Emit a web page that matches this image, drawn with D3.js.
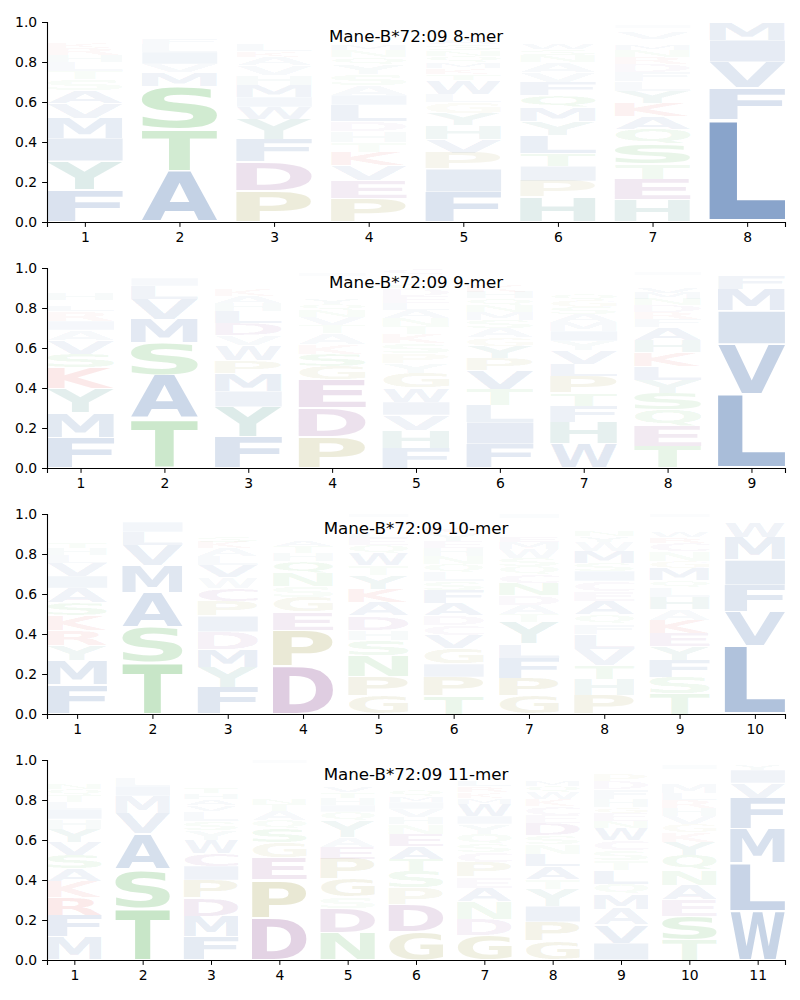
<!DOCTYPE html>
<html><head><meta charset="utf-8">
<script src="https://cdn.jsdelivr.net/npm/d3@7/dist/d3.min.js"></script>
<style>body{margin:0;background:#fff}svg{display:block}</style>
</head><body>
<svg id="chart" width="800" height="1000"></svg>
<script>
// ---------- data (bottom-to-top stacks, per position) ----------
const allele = "Mane-B*72:09";
const lengths = [8, 9, 10, 11];
const yTicks = [0, 0.2, 0.4, 0.6, 0.8, 1.0];

const logo8 = [
  [["F",.16],["Y",.145],["I",.115],["M",.10],["V",.075],["A",.065],["S",.055],["T",.04],["L",.045],["H",.035],["R",.035],["K",.03],["W",.025],["Q",.02],["E",.02],["N",.015],["G",.01],["D",.01]],
  [["A",.255],["T",.21],["S",.215],["M",.07],["V",.04],["I",.06],["L",.04],["F",.03],["Y",.02],["W",.015],["C",.015],["Q",.015],["G",.015]],
  [["P",.155],["D",.145],["F",.115],["Y",.10],["W",.06],["I",.05],["M",.06],["H",.05],["V",.05],["A",.04],["K",.03],["L",.03],["R",.025],["S",.02],["Q",.02],["N",.015],["G",.015],["T",.015],["E",.005]],
  [["P",.12],["E",.09],["V",.075],["K",.065],["T",.05],["H",.055],["D",.05],["L",.08],["I",.05],["A",.05],["S",.055],["Y",.05],["Q",.035],["N",.035],["M",.03],["R",.025],["G",.025],["F",.02],["W",.015],["C",.025]],
  [["F",.15],["I",.115],["P",.08],["V",.07],["H",.07],["Y",.06],["G",.055],["L",.04],["W",.07],["T",.03],["K",.03],["M",.03],["Q",.03],["N",.03],["S",.03],["A",.03],["E",.025],["R",.025],["D",.015],["C",.015]],
  [["H",.125],["P",.08],["I",.075],["T",.065],["L",.09],["Y",.07],["M",.07],["Q",.06],["F",.065],["V",.05],["A",.05],["N",.035],["S",.03],["W",.03],["R",.025],["K",.025],["G",.02],["E",.015],["D",.015],["C",.005]],
  [["H",.11],["E",.105],["T",.075],["S",.10],["Q",.075],["A",.065],["K",.065],["Y",.06],["L",.05],["F",.045],["D",.04],["R",.035],["N",.035],["M",.03],["W",.025],["V",.03],["G",.025],["I",.015],["P",.015]],
  [["L",.51],["F",.16],["V",.13],["I",.11],["M",.09]]
];
const logo9 = [
  [["F",.15],["M",.125],["Y",.125],["K",.10],["S",.07],["V",.07],["A",.05],["I",.045],["R",.05],["L",.03],["T",.025],["H",.03],["W",.025],["Q",.02],["N",.02],["E",.02],["D",.015],["G",.015],["P",.015]],
  [["T",.245],["A",.22],["S",.16],["M",.12],["V",.10],["L",.065],["I",.04],["F",.02],["Q",.015],["Y",.015]],
  [["F",.155],["Y",.15],["I",.08],["M",.09],["P",.065],["W",.075],["V",.05],["D",.06],["L",.06],["H",.04],["A",.035],["K",.03],["G",.025],["S",.02],["T",.02],["E",.015],["Q",.015],["R",.015]],
  [["P",.155],["D",.145],["E",.14],["G",.07],["S",.06],["K",.05],["A",.055],["T",.04],["V",.04],["N",.035],["Q",.03],["Y",.03],["H",.025],["L",.025],["R",.02],["W",.02],["M",.02],["I",.015],["F",.015],["C",.01]],
  [["F",.10],["H",.09],["V",.075],["I",.065],["W",.07],["G",.075],["Y",.05],["P",.05],["S",.05],["K",.045],["T",.04],["N",.04],["A",.04],["L",.035],["E",.035],["D",.03],["Q",.03],["R",.025],["M",.025],["C",.03]],
  [["F",.12],["I",.11],["L",.085],["T",.08],["V",.095],["P",.06],["Y",.06],["G",.045],["A",.045],["S",.04],["M",.04],["N",.035],["Q",.035],["H",.03],["K",.03],["E",.025],["R",.02],["D",.02],["W",.015],["C",.01]],
  [["W",.12],["H",.11],["F",.08],["T",.065],["P",.085],["L",.06],["V",.07],["Y",.045],["I",.05],["M",.045],["A",.04],["S",.035],["G",.035],["Q",.03],["N",.025],["E",.025],["K",.025],["R",.02],["D",.02],["C",.015]],
  [["T",.11],["E",.10],["Q",.08],["S",.085],["Y",.065],["L",.07],["K",.07],["H",.06],["A",.065],["F",.04],["R",.035],["D",.035],["N",.03],["M",.03],["V",.03],["G",.025],["P",.02],["W",.015],["I",.015],["C",.02]],
  [["L",.37],["V",.25],["I",.165],["M",.11],["F",.065],["W",.02],["Y",.01],["A",.01]]
];
const logo10 = [
  [["F",.145],["M",.125],["Y",.075],["R",.075],["K",.075],["S",.06],["A",.075],["I",.06],["V",.065],["L",.04],["H",.035],["T",.03],["W",.025],["N",.025],["Q",.02],["E",.02],["G",.015],["D",.015],["P",.01],["C",.01]],
  [["T",.26],["S",.175],["A",.17],["M",.135],["V",.105],["L",.065],["I",.05],["F",.015],["Y",.01],["Q",.01],["C",.005]],
  [["F",.135],["Y",.10],["M",.09],["D",.085],["I",.08],["P",.075],["C",.065],["W",.055],["V",.06],["L",.045],["A",.04],["K",.03],["S",.03],["T",.025],["H",.02],["G",.02],["E",.015],["Q",.015],["N",.01],["R",.005]],
  [["D",.24],["P",.18],["E",.09],["G",.075],["S",.055],["N",.065],["Q",.06],["H",.04],["T",.035],["A",.03],["K",.025],["Y",.02],["V",.02],["L",.02],["R",.015],["M",.01],["W",.01],["F",.01]],
  [["G",.09],["P",.10],["N",.10],["S",.08],["H",.05],["D",.07],["A",.07],["K",.065],["Y",.07],["T",.05],["W",.06],["Q",.04],["E",.035],["L",.03],["V",.025],["R",.02],["M",.015],["F",.015],["I",.015]],
  [["T",.09],["P",.095],["I",.065],["G",.08],["V",.065],["C",.05],["D",.05],["A",.06],["F",.065],["S",.045],["L",.045],["Q",.04],["N",.04],["H",.04],["E",.035],["Y",.035],["K",.03],["R",.025],["M",.025],["W",.02]],
  [["G",.09],["P",.09],["F",.10],["L",.07],["Y",.11],["T",.04],["A",.045],["D",.05],["N",.06],["C",.045],["Q",.04],["S",.04],["W",.045],["M",.035],["E",.03],["H",.025],["K",.025],["R",.02],["V",.02],["I",.02]],
  [["P",.095],["H",.08],["T",.07],["V",.08],["L",.075],["F",.05],["Q",.045],["A",.07],["E",.05],["C",.05],["I",.05],["S",.04],["M",.06],["W",.045],["Y",.03],["N",.03],["K",.025],["R",.02],["D",.02],["G",.015]],
  [["T",.10],["S",.085],["F",.085],["Y",.07],["E",.065],["K",.065],["A",.055],["H",.06],["L",.05],["Q",.035],["M",.06],["G",.035],["N",.05],["C",.04],["R",.03],["W",.03],["V",.025],["D",.025],["P",.02],["I",.015]],
  [["L",.34],["V",.17],["F",.135],["I",.125],["M",.115],["W",.075],["Y",.02],["A",.01],["T",.01]]
];
const logo11 = [
  [["M",.115],["F",.11],["R",.09],["K",.08],["A",.06],["S",.07],["V",.065],["Y",.065],["H",.05],["I",.05],["L",.035],["T",.035],["Q",.03],["N",.03],["E",.025],["W",.02],["D",.02],["G",.02],["P",.015],["C",.015]],
  [["T",.26],["S",.195],["A",.175],["V",.105],["M",.085],["I",.05],["L",.04],["F",.02],["Y",.015],["Q",.015],["G",.015],["C",.01],["N",.01],["K",.005]],
  [["F",.115],["M",.105],["D",.09],["P",.09],["I",.07],["C",.065],["W",.065],["Y",.05],["S",.045],["L",.05],["V",.03],["A",.03],["H",.03],["T",.03],["E",.025],["K",.025],["G",.025],["Q",.025],["R",.02],["N",.015]],
  [["D",.21],["P",.19],["E",.11],["G",.075],["S",.07],["Q",.045],["A",.045],["T",.035],["N",.03],["K",.025],["V",.025],["H",.02],["L",.02],["R",.02],["Y",.02],["M",.015],["W",.015],["F",.015],["I",.015]],
  [["N",.135],["D",.125],["S",.055],["G",.09],["P",.10],["E",.06],["A",.05],["Y",.08],["Q",.045],["I",.035],["H",.035],["T",.03],["V",.03],["K",.025],["L",.025],["R",.02],["M",.02],["W",.015],["F",.015],["C",.01]],
  [["G",.14],["D",.135],["P",.085],["S",.085],["T",.06],["A",.065],["E",.06],["N",.05],["H",.035],["V",.04],["I",.035],["M",.03],["Q",.03],["K",.025],["R",.025],["L",.025],["F",.02],["W",.02],["Y",.02],["C",.015]],
  [["G",.125],["D",.08],["N",.085],["A",.07],["E",.055],["P",.075],["C",.05],["S",.04],["Q",.05],["Y",.05],["I",.04],["W",.06],["M",.03],["K",.03],["R",.03],["L",.03],["F",.025],["H",.025],["T",.025],["V",.025]],
  [["G",.095],["P",.095],["I",.08],["Y",.085],["T",.05],["A",.065],["L",.06],["N",.05],["S",.045],["D",.06],["E",.04],["C",.045],["K",.035],["W",.035],["Q",.03],["M",.03],["R",.025],["F",.025],["H",.025],["V",.025]],
  [["I",.085],["V",.09],["A",.08],["M",.075],["Q",.05],["L",.07],["T",.05],["S",.05],["C",.05],["W",.06],["N",.035],["E",.04],["G",.03],["H",.04],["F",.05],["D",.04],["P",.035],["K",.025],["R",.025],["Y",.02]],
  [["T",.10],["S",.12],["E",.08],["A",.075],["N",.075],["Q",.075],["Y",.065],["K",.05],["G",.04],["V",.04],["H",.04],["R",.04],["L",.035],["M",.05],["F",.025],["P",.025],["D",.02],["I",.02],["W",.015],["C",.01]],
  [["W",.245],["L",.24],["M",.17],["F",.155],["V",.075],["I",.065],["Y",.03],["A",.01],["T",.01]]
];
const logos = [logo8, logo9, logo10, logo11];

// ---------- styling ----------
const groupColors = [
  ["AVLIMFW", "#174d99"],
  ["STNQ",    "#2ca02c"],
  ["DEC",     "#7b2d80"],
  ["PG",      "#8a8419"],
  ["KR",      "#d62728"],
  ["YH",      "#1d7a6c"]
];
const colorOf = {};
groupColors.forEach(([letters, c]) => letters.split("").forEach(l => colorOf[l] = c));

const W = 800, margin = {left: 47, right: 15};
const panelTops = [22, 268, 514, 760], panelH = 200;
const vpad = 0.05, colW = 0.8;
const FONT = '"DejaVu Sans", sans-serif';

const svg = d3.select("#chart");

// glyph ink metrics via canvas
const ctx = document.createElement("canvas").getContext("2d");
ctx.font = 'bold 100px "DejaVu Sans"';
const metricCache = {};
function metrics(ch) {
  if (!metricCache[ch]) {
    const m = ctx.measureText(ch);
    metricCache[ch] = {l: m.actualBoundingBoxLeft, r: m.actualBoundingBoxRight,
                       a: m.actualBoundingBoxAscent, d: m.actualBoundingBoxDescent};
  }
  return metricCache[ch];
}

logos.forEach((logo, i) => {
  const n = lengths[i];
  const top = panelTops[i], bottom = top + panelH;
  const x = d3.scaleLinear().domain([1 - colW / 2, n + colW / 2]).range([margin.left, W - margin.right]);
  const y = d3.scaleLinear().domain([0, 1]).range([bottom, top]);
  const g = svg.append("g");

  const clipId = `clip${i}`;
  g.append("clipPath").attr("id", clipId).append("rect")
    .attr("x", margin.left).attr("y", top).attr("width", W - margin.right - margin.left).attr("height", panelH);

  // letters
  const glyphs = g.append("g").attr("clip-path", `url(#${clipId})`);
  logo.forEach((stack, pi) => {
    const pos = pi + 1;
    let cum = 0;
    stack.forEach(([ch, v]) => {
      const y0 = cum + v * vpad / 2, y1 = cum + v - v * vpad / 2;
      cum += v;
      const bx = x(pos - colW / 2), bw = x(pos + colW / 2) - bx;
      const by = y(y1), bh = y(y0) - y(y1);
      const m = metrics(ch);
      const sx = bw / (m.l + m.r), sy = bh / (m.a + m.d);
      glyphs.append("text")
        .attr("transform", `translate(${bx},${by}) scale(${sx},${sy}) translate(${m.l},${m.a})`)
        .attr("font-family", FONT).attr("font-weight", "bold").attr("font-size", 100)
        .attr("fill", colorOf[ch]).attr("fill-opacity", Math.min(1, v))
        .text(ch);
    });
  });

  // axes
  const yAxis = d3.axisLeft(y).tickValues(yTicks).tickFormat(d3.format(".1f"))
    .tickSizeOuter(0).tickSize(4.9).tickPadding(4.9);
  const xAxis = d3.axisBottom(x).tickValues(d3.range(1, n + 1)).tickFormat(d3.format("d"))
    .tickSizeOuter(0).tickSize(4.9).tickPadding(4.9);
  const ga = g.append("g").attr("transform", `translate(${margin.left},0)`).call(yAxis);
  const gb = g.append("g").attr("transform", `translate(0,${bottom})`).call(xAxis);
  [ga, gb].forEach(a => {
    a.selectAll("text").attr("font-family", FONT).attr("font-size", 13.9).attr("fill", "#000");
    a.selectAll("line").attr("stroke", "#000").attr("stroke-width", 1);
    a.select(".domain").attr("stroke", "#000").attr("stroke-width", 1.1);
  });

  // title
  g.append("text")
    .attr("x", (margin.left + W - margin.right) / 2).attr("y", y(0.9))
    .attr("text-anchor", "middle").attr("font-family", FONT).attr("font-size", 16.7)
    .attr("fill", "#000")
    .text(`${allele} ${n}-mer`);
});
</script>
</body></html>
